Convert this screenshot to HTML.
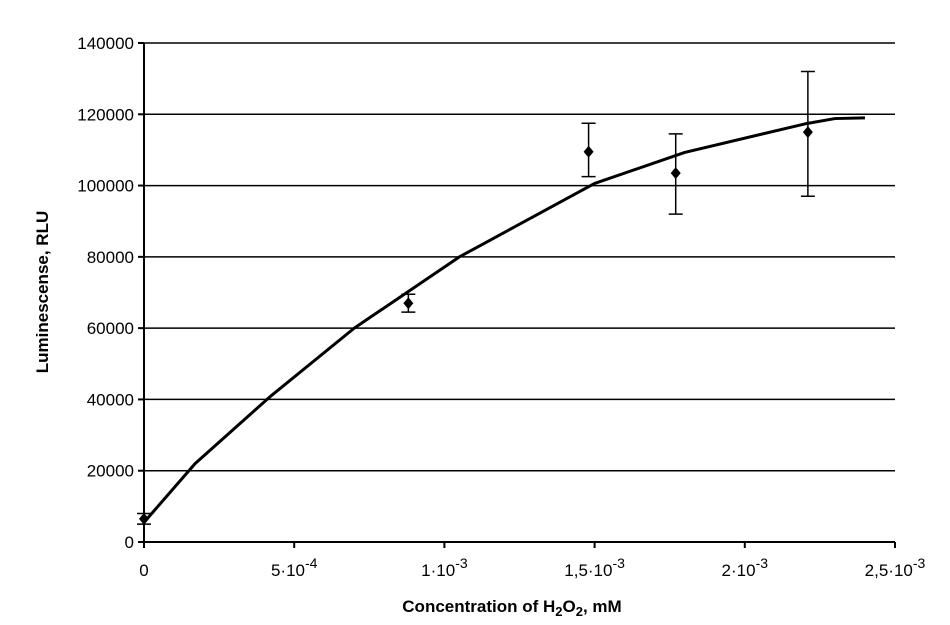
<!DOCTYPE html>
<html><head><meta charset="utf-8"><style>
body{margin:0;background:#fff;}
svg{display:block;font-family:"Liberation Sans",Arial,sans-serif;}
</style></head><body>
<svg id="chart" width="950" height="625" viewBox="0 0 950 625"></svg>
<script>
const yTicks=[0,20000,40000,60000,80000,100000,120000,140000];
const xTicks=[0,0.0005,0.001,0.0015,0.002,0.0025];
const xTickLabels=[["0",""],["5·10","-4"],["1·10","-3"],["1,5·10","-3"],["2·10","-3"],["2,5·10","-3"]];
const pointX=[0,0.00088,0.00148,0.00177,0.00221];
const pointY=[6500,67000,109500,103500,115000];
const errLow=[5000,64500,102500,92000,97000];
const errHigh=[8000,69500,117500,114500,132000];
const curveX=[0,0.00017,0.00042,0.0007,0.00105,0.0015,0.0018,0.0022,0.0023,0.0024];
const curveY=[5500,22000,40800,60000,80000,100600,109300,117300,118800,119000];

const svg=document.getElementById('chart');
const NS='http://www.w3.org/2000/svg';
const x0=144,x1=895,y0=542,y1=43;
const sx=v=>x0+v/0.0025*(x1-x0);
const sy=v=>y0-v/140000*(y0-y1);
function mk(tag,attrs,parent){const e=document.createElementNS(NS,tag);for(const k in attrs)e.setAttribute(k,attrs[k]);(parent||svg).appendChild(e);return e;}

yTicks.forEach((t,i)=>{
  if(t>0){const g=mk('line',{x1:x0,x2:x1,y1:sy(t),y2:sy(t),stroke:'#000','stroke-width':1.5});
  
  }
  const tk=mk('line',{x1:x0-6,x2:x0,y1:sy(t),y2:sy(t),stroke:'#000','stroke-width':2});
  
  
  const tx=mk('text',{x:x0-10,y:sy(t)+6,'text-anchor':'end','font-size':17});
  tx.textContent=t;
  
  
});
xTicks.forEach((t,i)=>{
  const tk=mk('line',{x1:sx(t),x2:sx(t),y1:y0,y2:y0+6,stroke:'#000','stroke-width':2});
  
  
  const tx=mk('text',{x:sx(t),y:y0+34,'text-anchor':'middle','font-size':17});
  tx.textContent=xTickLabels[i][0];
  if(xTickLabels[i][1]){const s=mk('tspan',{dy:-8,'font-size':14},tx);s.textContent=xTickLabels[i][1];}
  
  
});
const ax=mk('path',{d:`M${x0},${y1} V${y0} H${x1}`,fill:'none',stroke:'#000','stroke-width':2});



const cl=mk('polyline',{points:curveX.map((v,i)=>sx(v)+','+sy(curveY[i])).join(' '),fill:'none',stroke:'#000','stroke-width':3,'stroke-linejoin':'round'});



pointX.forEach((v,i)=>{
  const X=sx(v);
  const eb=mk('path',{d:`M${X},${sy(errLow[i])} V${sy(errHigh[i])} M${X-7},${sy(errLow[i])} H${X+7} M${X-7},${sy(errHigh[i])} H${X+7}`,stroke:'#000','stroke-width':1.5,fill:'none'});
  
  
  const Y=sy(pointY[i]);
  const p=mk('polygon',{points:`${X},${Y-6} ${X+5},${Y} ${X},${Y+6} ${X-5},${Y}`,fill:'#000'});
  
  
});

const xt=mk('text',{x:512,y:612,'text-anchor':'middle','font-size':17,'font-weight':'bold'});
xt.innerHTML='Concentration of H<tspan font-size="13" dy="4">2</tspan><tspan dy="-4">O</tspan><tspan font-size="13" dy="4">2</tspan><tspan dy="-4">, mM</tspan>';


const yt=mk('text',{x:0,y:0,'text-anchor':'middle','font-size':17,'font-weight':'bold',transform:'translate(48,292) rotate(-90)'});
yt.textContent='Luminescense, RLU';


</script>
</body></html>
